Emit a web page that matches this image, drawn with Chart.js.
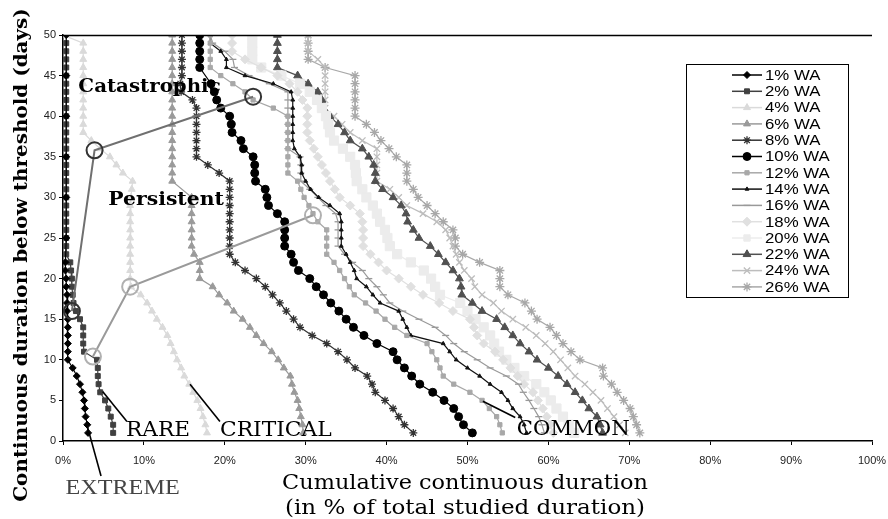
<!DOCTYPE html>
<html>
<head>
<meta charset="utf-8">
<script src="https://cdn.jsdelivr.net/npm/chart.js@4.4.1/dist/chart.umd.min.js"></script>
<style>
  html, body { margin: 0; padding: 0; background: #fff; }
  #wrap { width: 888px; height: 519px; }
</style>
</head>
<body>
<div id="wrap"><canvas id="myChart" width="888" height="519"></canvas></div>
<script>
// [cumulative % of duration, days below threshold]
const wa1 = [[0.4,50],[0.4,45],[0.4,40],[0.4,35],[0.4,30],[0.4,25],[0.3,22],[0.3,21],[0.4,20],[0.4,19],[0.5,18],[0.5,17],[0.5,16],[0.6,15],[0.6,14],[0.6,13],[0.6,12],[0.6,11],[0.6,10],[1.2,9],[1.7,8],[2.1,7],[2.4,6],[2.6,5],[2.7,4],[2.8,3],[3.0,2],[3.1,1]];
const wa2 = [[0.4,49],[0.4,48],[0.4,47],[0.4,46],[0.4,45],[0.4,44],[0.4,43],[0.4,42],[0.4,41],[0.4,40],[0.4,39],[0.4,38],[0.4,37],[0.4,36],[0.4,35],[0.4,34],[0.4,33],[0.4,32],[0.4,31],[0.4,30],[0.4,29],[0.4,28],[0.4,27],[0.4,26],[0.4,25],[0.4,24],[0.4,23],[0.9,22],[1.0,21],[1.1,20],[1.1,19],[1.2,18],[1.3,17],[1.6,16],[2.1,15],[2.5,14],[2.5,13],[2.5,12],[2.6,11],[4.2,10],[4.3,9],[4.3,8],[4.4,7],[4.6,6],[5.2,5],[5.6,4],[5.9,3],[6.2,2],[6.2,1]];
const wa4 = [[0,50],[2.5,49],[2.5,48],[2.5,47],[2.5,46],[2.5,45],[2.5,44],[2.5,43],[2.5,42],[2.5,41],[2.5,40],[2.5,39],[2.5,38],[3.5,37],[4.6,36],[5.8,35],[6.6,34],[7.4,33],[8.6,32],[8.5,31],[8.4,30],[8.3,29],[8.3,28],[8.3,27],[8.3,26],[8.3,25],[8.3,24],[8.3,23],[8.3,22],[8.3,21],[8.3,20],[8.4,19],[9.6,18],[10.4,17],[11.0,16],[11.6,15],[12.3,14],[12.9,13],[13.3,12],[13.7,11],[14.1,10],[14.6,9],[15.0,8],[15.6,7],[16.1,6],[16.6,5],[17.0,4],[17.3,3],[17.6,2],[17.8,1]];
const wa6 = [[13.5,50],[13.5,49],[13.5,48],[13.5,47],[13.5,46],[13.5,45],[13.5,44],[13.5,43],[13.5,42],[13.5,41],[13.5,40],[13.5,39],[13.5,38],[13.5,37],[13.5,36],[13.5,35],[13.5,34],[13.5,33],[13.5,32],[15.9,30],[15.9,29],[15.9,28],[15.9,27],[15.9,26],[15.9,25],[15.9,24],[16.2,23],[16.9,22],[16.9,21],[16.9,20],[18.5,19],[19.3,18],[20.3,17],[21.1,16],[22.2,15],[23.1,14],[23.9,13],[24.8,12],[25.8,11],[26.6,10],[27.3,9],[28.1,8],[28.3,7],[28.6,6],[29.0,5],[29.2,4],[29.4,3],[29.6,2],[29.7,1]];
const wa8 = [[14.7,50],[14.7,49],[14.7,48],[14.7,47],[14.7,46],[14.7,45],[14.5,44],[14.6,43],[16.0,42],[16.5,41],[16.5,40],[16.5,39],[16.5,38],[16.5,37],[16.5,36],[16.5,35],[17.9,34],[19.3,33],[20.6,32],[20.6,31],[20.6,30],[20.6,29],[20.6,28],[20.6,27],[20.6,26],[20.6,25],[20.6,24],[20.6,23],[21.3,22],[22.5,21],[23.9,20],[25.0,19],[25.9,18],[26.8,17],[27.6,16],[28.5,15],[29.3,14],[30.8,13],[32.6,12],[34.0,11],[35.1,10],[36.1,9],[37.6,8],[38.2,7],[38.6,6],[39.8,5],[40.8,4],[41.5,3],[42.2,2],[43.3,1]];
const wa10 = [[16.9,50],[16.9,49],[16.9,48],[16.9,47],[16.9,46],[18.3,44],[18.7,43],[19.0,42],[19.5,41],[20.6,40],[20.8,39],[20.9,38],[22.0,37],[22.3,36],[23.5,35],[23.7,34],[23.7,33],[23.8,32],[25.0,31],[25.2,30],[25.4,29],[26.5,28],[27.4,27],[27.4,26],[27.4,25],[27.4,24],[28.2,23],[28.5,22],[29.1,21],[30.5,20],[31.3,19],[32.2,18],[33.1,17],[34.1,16],[35.0,15],[35.9,14],[37.2,13],[38.8,12],[40.8,11],[41.3,10],[42.2,9],[43.1,8],[44.1,7],[45.7,6],[47.1,5],[48.3,4],[48.9,3],[49.5,2],[50.6,1]];
const wa12 = [[18.2,50],[18.2,49],[18.2,48],[18.2,47],[18.2,46],[19.5,45],[21.0,44],[22.5,43],[23.5,42],[26.0,41],[27.8,40],[27.8,39],[27.8,38],[27.8,37],[27.8,36],[27.8,35],[27.8,34],[27.8,33],[29.0,32],[29.4,31],[29.8,30],[30.4,29],[30.9,28],[31.5,27],[32.6,26],[32.6,25],[32.6,24],[32.6,23],[33.5,22],[34.2,21],[34.8,20],[35.4,19],[36.0,18],[37.4,17],[38.7,16],[39.8,15],[41.0,14],[42.5,13],[45.0,12],[45.6,11],[46.2,10],[46.6,9],[47.0,8],[48.3,7],[50.3,6],[51.8,5],[52.7,4],[53.6,3],[54.0,2],[54.3,1]];
const wa14 = [[18.2,50],[18.2,49],[19.5,48],[20.2,47],[20.2,46],[22.5,45],[26.0,44],[28.2,43],[28.4,42],[28.4,41],[28.4,40],[28.4,39],[28.4,38],[28.4,37],[28.6,36],[29.3,35],[29.5,34],[29.5,33],[30.0,32],[30.6,31],[31.6,30],[33.0,29],[34.2,28],[34.4,27],[34.4,26],[34.4,25],[34.4,24],[35.0,23],[35.5,22],[36.0,21],[36.3,20],[37.5,19],[38.3,18],[39.2,17],[41.5,16],[42.0,15],[42.5,14],[43.0,13],[47.0,12],[47.8,11],[48.6,10],[50.0,9],[51.5,8],[52.8,7],[54.2,6],[55.0,5],[55.6,4],[56.5,3],[57.0,2],[57.3,1]];
const wa16 = [[18.2,50],[18.5,49],[20.0,48],[21.0,47],[21.2,46],[23.0,45],[25.5,44],[27.8,43],[27.8,42],[27.8,41],[27.8,40],[27.8,39],[27.8,38],[27.8,37],[27.8,36],[29.3,35],[29.4,34],[29.4,33],[29.4,32],[30.5,31],[31.5,30],[32.5,29],[33.7,28],[34.0,27],[34.0,26],[34.0,25],[34.0,24],[34.8,23],[35.8,22],[37.0,21],[37.8,20],[38.8,19],[39.6,18],[40.4,17],[42.0,16],[44.0,15],[46.0,14],[47.3,13],[48.3,12],[49.6,11],[51.2,10],[52.8,9],[54.8,8],[56.3,7],[56.9,6],[57.6,5],[58.2,4],[58.8,3],[59.2,2],[59.5,1]];
const wa18 = [[20.9,50],[20.9,49],[20.9,48],[22.5,47],[24.5,46],[26.5,45],[28.0,44],[29.0,43],[29.6,42],[30.2,41],[30.2,40],[30.2,39],[30.2,38],[30.5,37],[31.0,36],[31.5,35],[32.0,34],[32.5,33],[33.0,32],[33.6,31],[34.2,30],[35.5,29],[36.7,28],[37.0,27],[37.1,26],[37.1,25],[37.1,24],[38.0,23],[39.0,22],[40.0,21],[41.5,20],[43.0,19],[44.5,18],[46.5,17],[48.2,16],[50.3,15],[50.8,14],[51.2,13],[52.0,12],[53.4,11],[54.4,10],[55.3,9],[56.2,8],[57.0,7],[58.1,6],[58.7,5],[59.3,4],[59.8,3],[60.2,2],[60.6,1]];
const wa20 = [[23.4,50],[23.4,49],[23.4,48],[23.4,47],[24.5,46],[27.0,45],[29.3,44],[30.5,43],[31.4,42],[32.0,41],[32.5,40],[32.8,39],[33.0,38],[33.5,37],[34.6,36],[35.5,35],[36.1,34],[36.2,33],[36.3,32],[37.0,31],[37.5,30],[38.3,29],[38.8,28],[39.2,27],[39.8,26],[40.1,25],[40.4,24],[41.3,23],[43.0,22],[44.6,21],[45.5,20],[46.0,19],[46.6,18],[49.1,17],[50.0,16],[51.0,15],[52.0,14],[52.8,13],[53.3,12],[53.9,11],[54.8,10],[55.8,9],[57.0,8],[58.5,7],[59.5,6],[60.3,5],[61.0,4],[61.8,3],[62.5,2],[63.2,1]];
const wa22 = [[26.5,50],[26.5,49],[26.5,48],[26.5,47],[26.5,46],[29.0,45],[30.3,44],[31.5,43],[32.0,42],[32.2,41],[33.0,40],[34.0,39],[34.8,38],[35.5,37],[37.0,36],[37.8,35],[38.4,34],[38.6,33],[38.6,32],[39.5,31],[40.8,30],[41.8,29],[42.4,28],[42.6,27],[43.3,26],[44.0,25],[45.4,24],[46.4,23],[47.3,22],[48.2,21],[49.0,20],[49.2,19],[49.3,18],[50.6,17],[51.8,16],[53.6,15],[54.6,14],[55.6,13],[56.5,12],[57.6,11],[58.6,10],[60.0,9],[61.2,8],[62.3,7],[63.3,6],[64.2,5],[65.0,4],[66.0,3],[66.4,2],[66.7,1]];
const wa24 = [[30.3,50],[30.3,49],[30.3,48],[31.5,47],[32.4,46],[32.4,45],[32.4,44],[32.4,43],[32.4,42],[32.4,41],[33.5,40],[34.5,39],[35.5,38],[37.0,37],[38.8,36],[38.8,35],[38.8,34],[38.8,33],[38.8,32],[40.4,31],[41.5,30],[42.5,29],[44.5,28],[46.2,27],[47.3,26],[47.8,25],[48.2,24],[48.6,23],[49.0,22],[49.6,21],[50.5,20],[50.9,19],[51.8,18],[53.2,17],[54.2,16],[55.6,15],[57.2,14],[58.5,13],[59.6,12],[60.6,11],[61.5,10],[62.4,9],[63.3,8],[64.5,7],[65.5,6],[66.5,5],[67.3,4],[68.1,3],[68.8,2],[69.5,1]];
const wa26 = [[30.3,50],[30.3,49],[30.3,48],[30.3,47],[32.4,46],[36.1,45],[36.1,44],[36.1,43],[36.1,42],[36.1,41],[36.1,40],[37.5,39],[38.5,38],[39.3,37],[40.3,36],[41.2,35],[42.5,34],[42.5,33],[42.5,32],[43.3,31],[43.9,30],[45.0,29],[46.0,28],[47.0,27],[48.2,26],[48.5,25],[48.5,24],[49.4,23],[51.5,22],[54.0,21],[54.0,20],[54.0,19],[55.0,18],[57.1,17],[57.9,16],[58.6,15],[60.2,14],[61.0,13],[61.8,12],[62.8,11],[63.9,10],[66.7,9],[66.8,8],[67.8,7],[68.5,6],[69.3,5],[70.1,4],[70.5,3],[70.9,2],[71.3,1]];

// the two hand-drawn "zone" curves with their circles
const catastrophic = [[1.1,16],[3.9,35.8],[23.5,42.4]];
const persistent = [[3.7,10.4],[8.3,19],[30.9,27.8]];

const seriesNames = ['1% WA','2% WA','4% WA','6% WA','8% WA','10% WA','12% WA','14% WA','16% WA','18% WA','20% WA','22% WA','24% WA','26% WA'];
const seriesData = [wa1, wa2, wa4, wa6, wa8, wa10, wa12, wa14, wa16, wa18, wa20, wa22, wa24, wa26];
const lineColors = ['#000','#404040','#dadada','#9a9a9a','#333','#000','#a8a8a8','#111','#999','#e0e0e0','#ececec','#505050','#bdbdbd','#a8a8a8'];
const markers = ['rectRot','rect','triangle','triangle','star','circle','rect','triangle','line','rectRot','rect','triangle','crossRot','star'];
const markerSizes = [3.5, 3.5, 4, 4, 4, 4, 3, 2.2, 3.5, 4.5, 6.5, 4.5, 4.5, 4.5];

const xTicks = [0,10,20,30,40,50,60,70,80,90,100];
const yTicks = [0,5,10,15,20,25,30,35,40,45,50];

const toPts = arr => arr.map(p => ({x: p[0], y: p[1]}));

const datasets = seriesData.map((d, i) => ({
    label: seriesNames[i],
    data: toPts(d),
    borderColor: lineColors[i],
    backgroundColor: lineColors[i],
    borderWidth: 1.2,
    pointStyle: markers[i],
    pointRadius: markerSizes[i],
    pointBorderWidth: markers[i] == 'star' || markers[i] == 'crossRot' || markers[i] == 'line' ? 1.3 : 1,
    order: i
}));

datasets.push({
    label: 'cat',
    data: toPts(catastrophic),
    borderColor: '#707070',
    borderWidth: 2,
    pointRadius: 8,
    pointBorderColor: '#333',
    pointBackgroundColor: 'rgba(255,255,255,0)',
    pointBorderWidth: 2,
    order: -2
});
datasets.push({
    label: 'pers',
    data: toPts(persistent),
    borderColor: '#9a9a9a',
    borderWidth: 2,
    pointRadius: 8,
    pointBorderColor: '#b0b0b0',
    pointBackgroundColor: 'rgba(255,255,255,0)',
    pointBorderWidth: 2,
    order: -1
});

// annotations: text label, anchor (x%, days), stretch
const zoneLabels = [
    {text: 'Catastrophic', x: 1.9, y: 43.6, font: 'bold 18px "DejaVu Serif"', sx: 1.1},
    {text: 'Persistent', x: 5.6, y: 29.7, font: 'bold 18px "DejaVu Serif"', sx: 1.13},
    {text: 'RARE', x: 7.8, y: 1.2, font: '20px "DejaVu Serif"', sx: 1.08},
    {text: 'CRITICAL', x: 19.4, y: 1.2, font: '20px "DejaVu Serif"', sx: 1.09},
    {text: 'COMMON', x: 56.1, y: 1.4, font: '20px "DejaVu Serif"', sx: 1.06},
    {text: 'EXTREME', x: 0.3, y: -5.8, font: '22px "Liberation Serif"', sx: 1.1, color: '#444'}
];
const pointers = [
    [[4.9,6.1],[7.9,2.4]],
    [[15.7,7.0],[19.4,2.4]],
    [[51.9,4.9],[55.9,2.9]],
    [[2.9,2.2],[4.7,-4.3]]
];

function stretchText(ctx, text, x, y, sx) {
    ctx.save();
    ctx.translate(x, y);
    ctx.scale(sx, 1);
    ctx.fillText(text, 0, 0);
    ctx.restore();
}

const extras = {
    id: 'extras',
    afterDatasetsDraw(chart) {
        const ctx = chart.ctx;
        const xs = chart.scales.x, ys = chart.scales.y, a = chart.chartArea;
        ctx.save();
        // top frame line
        ctx.strokeStyle = '#000';
        ctx.lineWidth = 1.5;
        ctx.beginPath();
        ctx.moveTo(a.left, a.top + 0.5);
        ctx.lineTo(a.right, a.top + 0.5);
        ctx.stroke();

        // pointer lines
        ctx.lineWidth = 1.6;
        pointers.forEach(p => {
            ctx.beginPath();
            ctx.moveTo(xs.getPixelForValue(p[0][0]), ys.getPixelForValue(p[0][1]));
            ctx.lineTo(xs.getPixelForValue(p[1][0]), ys.getPixelForValue(p[1][1]));
            ctx.stroke();
        });

        // zone labels
        ctx.textBaseline = 'middle';
        ctx.textAlign = 'left';
        zoneLabels.forEach(l => {
            ctx.font = l.font;
            ctx.fillStyle = l.color || '#000';
            stretchText(ctx, l.text, xs.getPixelForValue(l.x), ys.getPixelForValue(l.y), l.sx);
        });

        // legend box
        const lx = 686, ly = 64, lw = 162, lh = 233;
        ctx.fillStyle = '#fff';
        ctx.fillRect(lx, ly, lw, lh);
        ctx.strokeStyle = '#000';
        ctx.lineWidth = 1;
        ctx.strokeRect(lx + 0.5, ly + 0.5, lw, lh);
        ctx.font = '14px "Liberation Sans"';
        chart.data.datasets.slice(0, seriesNames.length).forEach((ds, i) => {
            const yy = ly + 11 + i * 16.3;
            ctx.strokeStyle = ds.borderColor;
            ctx.fillStyle = ds.borderColor;
            ctx.lineWidth = 1.5;
            ctx.beginPath();
            ctx.moveTo(732, yy);
            ctx.lineTo(762, yy);
            ctx.stroke();
            ctx.lineWidth = ds.pointBorderWidth;
            Chart.helpers.drawPoint(ctx, {pointStyle: ds.pointStyle, radius: Math.min(ds.pointRadius, 4.5), rotation: 0, borderWidth: ds.pointBorderWidth}, 747, yy);
            ctx.fillStyle = '#000';
            stretchText(ctx, ds.label, 765, yy + 1, 1.2);
        });

        // axis titles
        ctx.fillStyle = '#000';
        ctx.textAlign = 'center';
        ctx.font = '20px "DejaVu Serif"';
        stretchText(ctx, 'Cumulative continuous duration', 465, 484, 1.12);
        stretchText(ctx, '(in % of total studied duration)', 465, 509, 1.15);
        ctx.save();
        ctx.translate(22, 255);
        ctx.rotate(-Math.PI / 2);
        ctx.font = 'bold 19px "DejaVu Serif"';
        stretchText(ctx, 'Continuous duration below threshold (days)', 0, 0, 1.05);
        ctx.restore();
        ctx.restore();
    }
};

const chartCtx = document.getElementById('myChart').getContext('2d');
const myChart = new Chart(chartCtx, {
    type: 'line',
    data: { datasets: datasets },
    options: {
        responsive: false,
        animation: false,
        layout: { padding: { left: 0, right: 16, top: 35, bottom: 0 } },
        plugins: { legend: { display: false }, tooltip: { enabled: false } },
        scales: {
            x: {
                type: 'linear',
                min: 0, max: 100,
                afterBuildTicks: s => { s.ticks = xTicks.map(v => ({value: v})); },
                afterFit: s => { s.height = 78; s.paddingRight = 0; s.paddingLeft = 0; },
                ticks: { callback: v => v + '%', color: '#222', font: { family: 'Liberation Sans', size: 11 }, maxRotation: 0, padding: 9 },
                grid: { drawOnChartArea: false, drawTicks: true, tickLength: 4, color: '#000' },
                border: { display: true, color: '#000', width: 1.5 }
            },
            y: {
                type: 'linear',
                min: 0, max: 50,
                afterBuildTicks: s => { s.ticks = yTicks.map(v => ({value: v})); },
                afterFit: s => { s.width = 63; },
                ticks: { color: '#222', font: { family: 'Liberation Sans', size: 11 }, padding: 3 },
                grid: { drawOnChartArea: false, drawTicks: true, tickLength: 4, color: '#000' },
                border: { display: true, color: '#000', width: 1.5 }
            }
        }
    },
    plugins: [extras]
});
</script>
</body>
</html>
